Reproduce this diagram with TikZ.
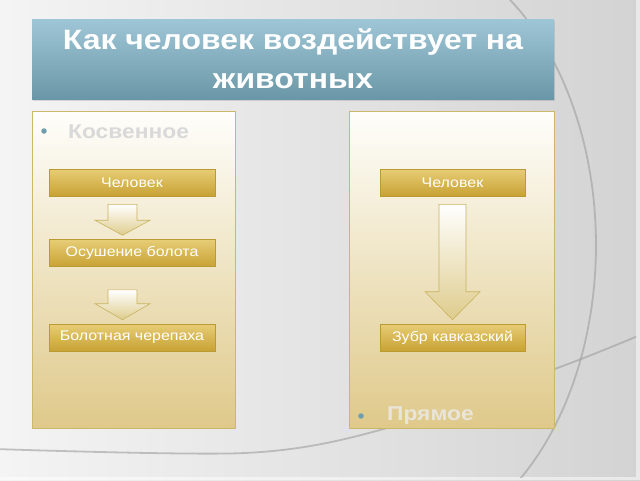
\documentclass[tikz,border=0pt]{standalone}
\usepackage{fontspec}
\setmainfont[FakeStretch=1.14]{Liberation Sans}
\usetikzlibrary{calc,shadows}
\definecolor{bgl}{HTML}{F4F4F4}
\definecolor{bgr}{HTML}{D3D3D3}
\definecolor{swoosh}{HTML}{9E9E9E}
\definecolor{titletop}{HTML}{9FC6D6}
\definecolor{titlebot}{HTML}{6A97A7}
\definecolor{paneltop}{HTML}{FEFEFB}
\definecolor{panelbot}{HTML}{DFC98A}
\definecolor{panelline}{HTML}{CDB86A}
\definecolor{goldtop}{HTML}{E7CD76}
\definecolor{goldbot}{HTML}{C8A234}
\definecolor{goldline}{HTML}{B99A33}
\definecolor{arrowbot}{HTML}{DECC8C}
\definecolor{arrowline}{HTML}{C7B35E}
\definecolor{bulletc}{HTML}{6E9DAE}
\definecolor{faintgray}{HTML}{D9D9D9}
\definecolor{faintlight}{HTML}{EAE5DA}
\tikzset{
  titlebox/.style={top color=titletop, bottom color=titlebot, draw=none,
    minimum width=522, minimum height=80, inner sep=0, align=center,
    text=white, font=\fontsize{28}{39}\selectfont\bfseries,
    drop shadow={shadow xshift=1pt, shadow yshift=-1.5pt, opacity=0.25}},
  panel/.style={top color=paneltop, bottom color=panelbot, draw=panelline,
    line width=0.8pt, inner sep=0},
  goldbox/.style={top color=goldtop, bottom color=goldbot, draw=goldline,
    line width=0.6pt, minimum height=27, inner sep=0, text=white,
    font=\fontsize{14}{16}\selectfont},
  barrow/.style={top color=white, bottom color=arrowbot, draw=arrowline,
    line width=0.6pt},
  bullettext/.style={font=\fontsize{20}{24}\selectfont\bfseries, inner sep=0, anchor=west},
  bulletdot/.style={circle, fill=bulletc, inner sep=0, minimum size=5.5},
  swooshline/.style={draw=swoosh, line width=1.8pt, opacity=0.6}
}
% #1 from node, #2 to node, #3 x centre, #4 top gap, #5 half shaft, #6 half head, #7 head length
\newcommand\blkarrow[7]{%
  \path[barrow] let \p1=(#1.south), \p2=(#2.north) in
    (#3pt-#5pt, \y1-#4pt) -- (#3pt+#5pt, \y1-#4pt) --
    (#3pt+#5pt, \y2+4pt+#7pt) -- (#3pt+#6pt, \y2+4pt+#7pt) --
    (#3pt, \y2+4pt) --
    (#3pt-#6pt, \y2+4pt+#7pt) -- (#3pt-#5pt, \y2+4pt+#7pt) -- cycle;}
\begin{document}
\begin{tikzpicture}[x=1pt,y=-1pt]
\useasboundingbox (0,0) rectangle (640,480);
% background
\shade[left color=bgl, right color=bgr] (0,0) rectangle (640,480);
\fill[white, opacity=0.5] (636,0) rectangle (640,480);
\fill[white, opacity=0.5] (0,477) rectangle (636,480);
\begin{scope}
\clip (0,0) rectangle (636,477);
\draw[swooshline] plot[domain=-62:62, samples=80] ({393+203*cos(\x)}, {245+300*sin(\x)});
\draw[swooshline] plot[smooth] coordinates {(-5,449) (245,453) (380,430) (560,367) (645,333)};
\end{scope}
% title
\node[titlebox] (title) at (293,59) {Как человек воздействует на\\животных};
% panels
\node[panel, minimum width=203, minimum height=317] (leftpanel) at (133.5,269.5) {};
\node[panel, minimum width=205, minimum height=317] (rightpanel) at (451.5,269.5) {};
% bullets
\node[bulletdot] (lbullet) at (44,131) {};
\node[bullettext, text=faintgray] (lhead) at (68,132) {Косвенное};
\node[bulletdot] (rbullet) at (361,416) {};
\node[bullettext, text=faintlight] (rhead) at (387,416) {Прямое};
% left chain
\node[goldbox, minimum width=166] (lman) at (132,182.5) {Человек};
\node[goldbox, minimum width=166] (ldrain) at (132,253) {Осушение болота};
\node[goldbox, minimum width=166] (lturtle) at (132,337.5) {Болотная черепаха};
% right chain
\node[goldbox, minimum width=145] (rman) at (452.5,182.5) {Человек};
\node[goldbox, minimum width=145] (rbison) at (452.5,337.5) {Зубр кавказский};
% arrows
\blkarrow{lman}{ldrain}{122.5}{8}{14.5}{27.5}{15}
\blkarrow{ldrain}{lturtle}{122.5}{23}{14.5}{27.5}{16}
\blkarrow{rman}{rbison}{452.5}{8}{13.5}{27.5}{28}
\end{tikzpicture}
\end{document}
